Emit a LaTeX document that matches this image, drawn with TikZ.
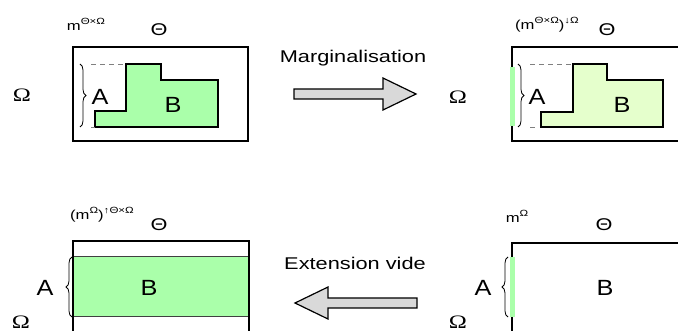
\documentclass[tikz,border=0pt]{standalone}
\usepackage{fontspec}
\usepackage{graphicx}
\setmainfont{Liberation Sans}
\newfontfamily\omegafont{Liberation Serif}
\usetikzlibrary{decorations.pathreplacing}

\definecolor{mgreen}{HTML}{AAFFAA}
\definecolor{mpale}{HTML}{E5FFCC}
\definecolor{agray}{HTML}{D9D9D9}

% small raised index for the mass labels
\newcommand{\hoch}[1]{\raisebox{0.45em}{\fontsize{9}{9}\selectfont #1}}
% all labels are set a little wider than the font
\newcommand{\wide}[2][1.28]{\scalebox{#1}[1]{#2}}

\begin{document}
\begin{tikzpicture}[
    x=1pt, y=-1pt,
    every node/.style={inner sep=0pt},
    frame/.style={draw, line width=1.6pt},
    stairs/.style={draw, line width=1.5pt, line join=miter},
    guide/.style={draw=gray, line width=0.7pt, dash pattern=on 5pt off 4pt},
    bar/.style={draw=none, fill=mgreen},
    curly/.style={decorate, decoration={brace, amplitude=6pt}, line width=0.8pt},
    bigarrow/.style={draw, line width=1.2pt, fill=agray, line join=miter},
    letter/.style={font=\fontsize{22}{22}\selectfont},
    omega/.style={font=\omegafont\fontsize{19}{19}\selectfont},
    theta/.style={font=\fontsize{17}{17}\selectfont},
    mass/.style={font=\fontsize{13}{13}\selectfont},
    op/.style={font=\fontsize{17}{17}\selectfont}
]
\clip (0,0) rectangle (678,331);

% joint mass on Theta x Omega
\draw[frame] (73,47) rectangle (248,141);
\fill[mgreen] (95,127) -- (95,111) -- (126,111) -- (126,64) -- (161,64) -- (161,80) -- (218,80) -- (218,127) -- cycle;
\draw[stairs] (95,127) -- (95,111) -- (126,111) -- (126,64) -- (161,64) -- (161,80) -- (218,80) -- (218,127) -- cycle;
\draw[guide] (91,64) -- (126,64);
\draw[guide] (91,127) -- (95,127);
\draw[curly] (80,64) -- (80,127);
\node[letter] (a1) at (100,97) {\wide[1.15]{A}};
\node[letter] (b1) at (173,105) {\wide[1.15]{B}};
\node[omega] (om1) at (22,95) {\wide{Ω}};
\node[theta] (th1) at (159,30) {\wide{Θ}};
\node[mass] (m1) at (86,24) {\wide{m\hoch{Θ×Ω}}};

% marginalised mass
\draw[frame] (512,47) rectangle (690,141);
\fill[mpale] (541,127) -- (541,112) -- (573,112) -- (573,64) -- (607,64) -- (607,80) -- (663,80) -- (663,127) -- cycle;
\draw[stairs] (541,127) -- (541,112) -- (573,112) -- (573,64) -- (607,64) -- (607,80) -- (663,80) -- (663,127) -- cycle;
\draw[guide] (530,64) -- (573,64);
\draw[guide] (530,127) -- (535,127);
\fill[bar] (510,67) rectangle (515,126);
\draw[curly] (518,64) -- (518,127);
\node[letter] (a2) at (537,97) {\wide[1.15]{A}};
\node[letter] (b2) at (622,105) {\wide[1.15]{B}};
\node[omega] (om2) at (458,97) {\wide{Ω}};
\node[theta] (th2) at (607,30) {\wide{Θ}};
\node[mass] (m2) at (547,25) {\wide{(m\hoch{Θ×Ω})\hoch{↓Ω}}};

% operation arrows
\node[op] (marg) at (353,58) {\wide{Marginalisation}};
\draw[bigarrow] (294,89) -- (383,89) -- (383,78) -- (416,94) -- (383,110) -- (383,99) -- (294,99) -- cycle;
\node[op] (ext) at (355,263) {\wide{Extension vide}};
\draw[bigarrow] (417,298) -- (328,298) -- (328,287) -- (295,303) -- (328,319) -- (328,308) -- (417,308) -- cycle;

% vacuous extension
\draw[frame] (73,241) rectangle (249,345);
\draw[draw=black!75, line width=1pt, fill=mgreen] (73,257) rectangle (249,317);
\draw[frame] (73,241) rectangle (249,345);
\draw[curly] (72,317) -- (72,257);
\node[letter] (a3) at (45,288) {\wide[1.15]{A}};
\node[letter] (b3) at (149,288) {\wide[1.15]{B}};
\node[omega] (om3) at (21,322) {\wide{Ω}};
\node[theta] (th3) at (159,225) {\wide{Θ}};
\node[mass] (m3) at (102,215) {\wide{(m\hoch{Ω})\hoch{↑Θ×Ω}}};

% mass on Omega alone
\draw[frame] (512,345) -- (512,243) -- (690,243);
\fill[bar] (510,257) rectangle (515,317);
\draw[curly] (508,317) -- (508,257);
\node[letter] (a4) at (483,288) {\wide[1.15]{A}};
\node[letter] (b4) at (605,288) {\wide[1.15]{B}};
\node[omega] (om4) at (458,322) {\wide{Ω}};
\node[theta] (th4) at (604,225) {\wide{Θ}};
\node[mass] (m4) at (517,216) {\wide{m\hoch{Ω}}};
\end{tikzpicture}
\end{document}
